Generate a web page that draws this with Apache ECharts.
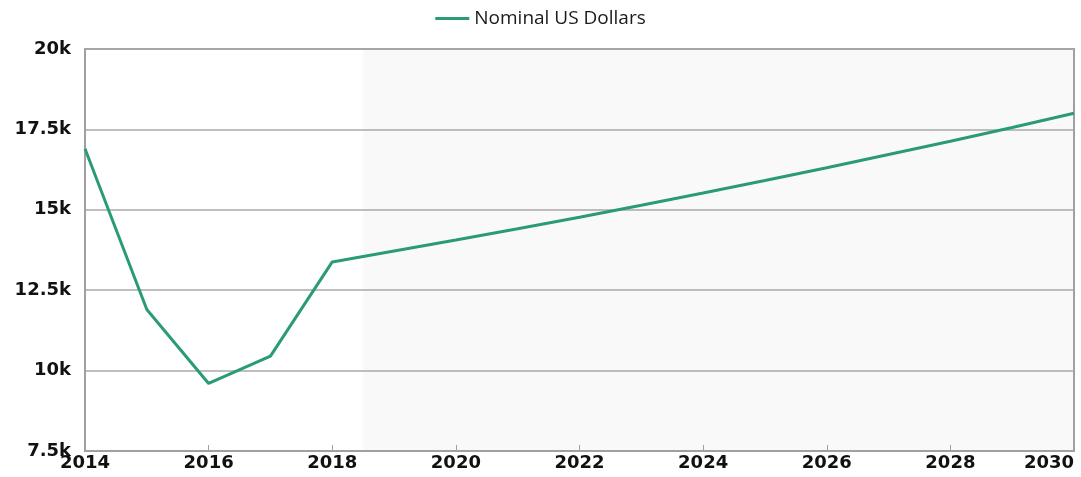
<!DOCTYPE html>
<html>
<head>
<meta charset="utf-8">
<script src="https://cdn.jsdelivr.net/npm/echarts@6/dist/echarts.min.js"></script>
<style>
  html, body { margin: 0; padding: 0; background: #fff; }
  #chart { width: 1081px; height: 477px; }
</style>
</head>
<body>
<div id="chart"></div>
<script>
// years and values (nominal US dollars)
const years = [2014, 2015, 2016, 2017, 2018, 2019, 2020, 2021, 2022, 2023, 2024, 2025, 2026, 2027, 2028, 2029, 2030];
const nominalUsd = [16900, 11900, 9600, 10450, 13380, 13720, 14060, 14410, 14770, 15140, 15520, 15910, 16310, 16720, 17130, 17560, 18000];
const forecastStart = 2018.5;
const forecastEnd = 2030;

const chart = echarts.init(document.getElementById('chart'));

const labelFont = {
    color: '#111',
    fontWeight: 'bold',
    fontSize: 18,
    fontFamily: 'DejaVu Sans'
};

const option = {
    animation: false,
    legend: {
        top: 4,
        left: 'center',
        itemWidth: 34,
        itemHeight: 3,
        itemGap: 10,
        icon: 'rect',
        textStyle: {
            color: '#1a1a1a',
            fontSize: 19,
            fontFamily: 'Open Sans'
        },
        data: ['Nominal US Dollars']
    },
    grid: {
        left: 85,
        right: 7,
        top: 49,
        bottom: 26,
        outerBoundsMode: 'none',
        containLabel: false,
        show: true,
        borderColor: '#a0a0a0',
        borderWidth: 2
    },
    xAxis: {
        type: 'value',
        min: 2014,
        max: 2030,
        interval: 2,
        axisLine: { lineStyle: { color: '#a0a0a0', width: 2 } },
        axisTick: { inside: true, length: 6, lineStyle: { color: '#a0a0a0' } },
        axisLabel: Object.assign({
            margin: 3,
            alignMaxLabel: 'right',
            formatter: v => String(v)
        }, labelFont),
        splitLine: { show: false }
    },
    yAxis: {
        type: 'value',
        min: 7500,
        max: 20000,
        interval: 2500,
        axisLine: { show: true, lineStyle: { color: '#a0a0a0', width: 2 } },
        axisTick: { show: false },
        axisLabel: Object.assign({
            margin: 14,
            formatter: v => (v / 1000) + 'k'
        }, labelFont),
        splitLine: { lineStyle: { color: '#a8a8a8', width: 1.5 } }
    },
    series: [
        {
            // forecast band, kept faint so the grid lines show through
            name: 'forecast',
            type: 'line',
            data: [],
            z: -1,
            markArea: {
                silent: true,
                z: -1,
                itemStyle: { color: 'rgba(0,0,0,0.022)' },
                data: [[{ xAxis: forecastStart }, { xAxis: forecastEnd }]]
            }
        },
        {
            name: 'Nominal US Dollars',
            type: 'line',
            data: years.map((y, i) => [y, nominalUsd[i]]),
            symbol: 'none',
            color: '#2a9b74',
            lineStyle: { width: 3, color: '#2a9b74' },
            z: 3
        }
    ]
};

chart.setOption(option);
</script>
</body>
</html>
